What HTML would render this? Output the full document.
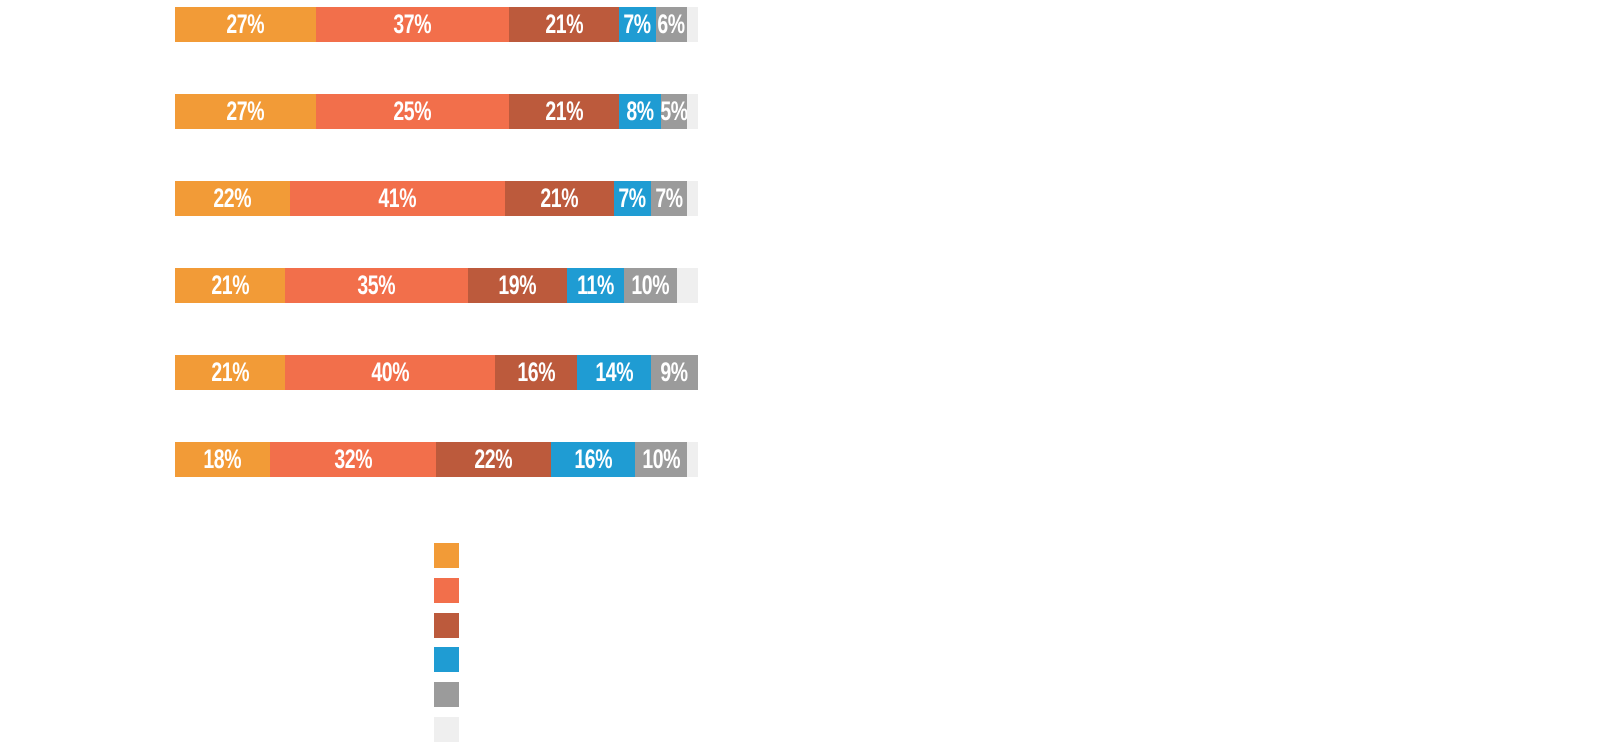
<!DOCTYPE html>
<html><head><meta charset="utf-8"><style>
body{margin:0;width:1600px;height:743px;background:#fff;position:relative;overflow:hidden}
.s{position:absolute;height:35px;display:flex;align-items:center;justify-content:center;color:#fff;font-family:"Liberation Sans",sans-serif;font-weight:bold;font-size:27px;white-space:nowrap;overflow:visible}
.s span{display:inline-block;transform:scaleX(0.72);letter-spacing:-0.5px}
.a{background:#f29b37}.b{background:#f26f4b}.c{background:#bc5a3c}.d{background:#1f9cd3}.e{background:#9b9b9b}.f{background:#efefef}
.l{position:absolute;left:434px;width:25px;height:25px}
</style></head><body>
<div id="c"></div>
<script>
var rows=[
[7,[175,316,509,619,656,687,698],["27%","37%","21%","7%","6%",""]],
[94,[175,316,509,619,661,687,698],["27%","25%","21%","8%","5%",""]],
[181,[175,290,505,614,651,687,698],["22%","41%","21%","7%","7%",""]],
[268,[175,285,468,567,624,677,698],["21%","35%","19%","11%","10%",""]],
[355,[175,285,495,577,651,698,698],["21%","40%","16%","14%","9%",""]],
[442,[175,270,436,551,635,687,698],["18%","32%","22%","16%","10%",""]]];
var cl="abcdef",h="";
rows.forEach(function(r){for(var i=0;i<6;i++){var x=r[1][i],w=r[1][i+1]-x;if(w<=0)continue;h+='<div class="s '+cl[i]+'" style="left:'+x+'px;top:'+r[0]+'px;width:'+w+'px"><span>'+r[2][i]+'</span></div>';}});
for(var k=0;k<6;k++)h+='<div class="l '+cl[k]+'" style="top:'+Math.round(543+34.8*k)+'px"></div>';
document.getElementById("c").innerHTML=h;
</script>
</body></html>
